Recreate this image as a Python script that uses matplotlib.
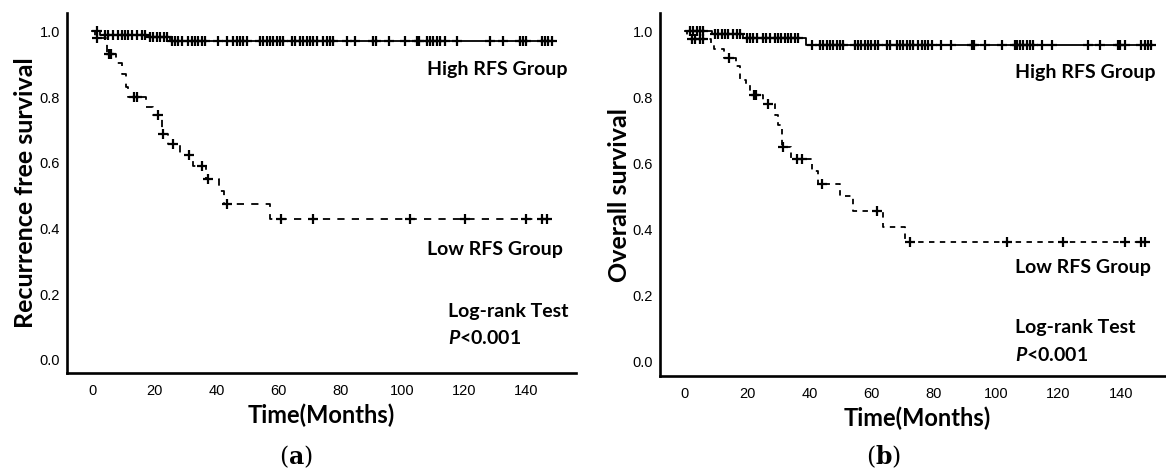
import numpy as np
import matplotlib
matplotlib.use("Agg")
import matplotlib.pyplot as plt

# ---- data (months, survival) ----
# panel (a): recurrence free survival
a_high_event_t = [2.4, 17.0, 25.0]
a_high_event_s = [0.990, 0.982, 0.971]
a_high_censor = [1.4, 4.0, 5.0, 6.6, 8.2, 9.5, 10.5, 11.5, 12.7, 14.4, 16.0, 16.9,
                 18.5, 19.5, 20.8, 21.8, 23.1, 24.0, 25.6, 26.6, 27.6, 28.9, 30.8,
                 32.1, 33.1, 34.0, 35.3, 36.3, 40.5, 43.4, 45.3, 46.6, 47.6, 48.5,
                 49.8, 54.0, 55.0, 56.3, 57.3, 58.2, 59.5, 60.5, 61.5, 64.4, 65.3,
                 66.9, 67.9, 69.2, 70.2, 71.1, 72.4, 74.4, 75.6, 76.6, 77.6, 82.1,
                 84.7, 90.5, 91.5, 95.6, 100.8, 104.7, 105.3, 107.9, 108.9, 109.8,
                 111.1, 112.1, 113.7, 117.6, 128.2, 132.4, 137.9, 138.9, 139.8,
                 145.0, 146.0, 147.0, 148.2]

a_low_event_t = [0.8, 4.6, 7.5, 9.5, 10.8, 11.5, 17.3, 19.5, 22.3, 24.5, 28.2,
                 32.5, 36.5, 40.8, 42.5, 57.3]
a_low_event_s = [0.981, 0.930, 0.905, 0.870, 0.830, 0.800, 0.770, 0.745, 0.688,
                 0.658, 0.625, 0.590, 0.550, 0.515, 0.473, 0.428]
a_low_censor = [1.4, 5.2, 6.0, 13.5, 14.3, 21.1, 22.8, 26.1, 31.2, 35.5, 37.4,
                43.3, 60.8, 71.2, 102.4, 120.2, 140.0, 145.0, 146.5]

# panel (b): overall survival
b_high_event_t = [8.6, 18.7, 39.0]
b_high_event_s = [0.990, 0.978, 0.957]
b_high_censor = [1.6, 2.7, 3.8, 4.8, 5.9, 9.6, 10.7, 11.8, 12.8, 13.9, 15.5, 16.6,
                 17.7, 19.8, 20.9, 22.0, 23.0, 25.2, 26.2, 27.3, 28.9, 30.0, 31.0,
                 32.1, 33.2, 34.2, 35.3, 36.4, 40.7, 43.3, 44.4, 45.5, 46.5, 47.6,
                 48.7, 49.7, 50.8, 54.6, 55.6, 56.7, 57.8, 58.8, 59.9, 61.0, 62.0,
                 64.8, 65.8, 68.0, 69.0, 70.1, 71.2, 72.2, 73.3, 74.9, 76.0, 77.1,
                 78.1, 79.2, 82.4, 85.6, 92.1, 92.8, 96.3, 101.7, 106.0, 106.7,
                 107.6, 108.7, 109.8, 110.8, 111.9, 114.6, 117.8, 129.5, 133.2,
                 139.1, 139.8, 141.2, 146.5, 147.6, 148.6, 149.7]

b_low_event_t = [0.8, 8.5, 9.5, 12.5, 16.4, 17.6, 19.5, 21.0, 25.1, 28.9, 30.0,
                 31.2, 34.0, 40.7, 42.8, 49.8, 54.0, 63.5, 70.6]
b_low_event_s = [0.975, 0.960, 0.947, 0.920, 0.895, 0.853, 0.837, 0.808, 0.778,
                 0.745, 0.715, 0.648, 0.613, 0.575, 0.537, 0.500, 0.455, 0.407, 0.360]
b_low_censor = [2.2, 3.2, 4.8, 5.9, 14.3, 22.2, 22.9, 26.8, 31.6, 35.9, 37.5,
                43.9, 61.6, 72.3, 103.3, 121.3, 141.3, 146.6, 147.7]

y_ticks = [0.0, 0.2, 0.4, 0.6, 0.8, 1.0]
x_ticks = [0, 20, 40, 60, 80, 100, 120, 140]

TEXT_FONT = 'Lato'
TICK_FONT = 'Liberation Sans'

plt.rcParams['mathtext.fontset'] = 'custom'
plt.rcParams['mathtext.rm'] = 'Lato'
plt.rcParams['mathtext.it'] = 'Lato:italic:bold'
plt.rcParams['mathtext.bf'] = 'DejaVu Serif:bold'

W, H = 1166, 468
fig = plt.figure(figsize=(W / 100, H / 100), dpi=100)


def step_xy(event_t, event_s, end_t):
    t = [0.0]
    s = [1.0]
    for et, es in zip(event_t, event_s):
        t += [et, et]
        s += [s[-1], es]
    t.append(end_t)
    s.append(s[-1])
    return np.array(t), np.array(s)


def surv_at(event_t, event_s, times):
    idx = np.searchsorted(event_t, times, side='right')
    vals = np.concatenate([[1.0], event_s])
    return vals[idx]


def draw_group(ax, event_t, event_s, censor, dashed):
    end_t = max(censor[-1], event_t[-1])
    t, s = step_xy(event_t, event_s, end_t)
    if dashed:
        ax.plot(t, s, color='black', lw=1.3, dashes=dashed)
    else:
        ax.plot(t, s, color='black', lw=1.3)
    ax.plot(censor, surv_at(event_t, event_s, censor), ls='none', marker='+',
            ms=7.5, mew=1.6, color='black')


def make_panel(rect, xlim, ylim, ylabel):
    ax = fig.add_axes(rect)
    ax.set_xlim(*xlim)
    ax.set_ylim(*ylim)
    for side in ['top', 'right']:
        ax.spines[side].set_visible(False)
    for side in ['left', 'bottom']:
        ax.spines[side].set_linewidth(1.9)
    ax.set_xticks(x_ticks)
    ax.set_yticks(y_ticks)
    ax.set_yticklabels([f'{v:.1f}' for v in y_ticks])
    ax.tick_params(length=0, labelsize=10.5)
    ax.tick_params(axis='x', pad=8)
    ax.tick_params(axis='y', pad=5)
    for lab in ax.get_xticklabels() + ax.get_yticklabels():
        lab.set_fontfamily(TICK_FONT)
    ax.set_ylabel(ylabel, fontfamily=TEXT_FONT, fontweight='bold', fontsize=18)
    return ax


def px_rect(left, right, top, bottom):
    return [left / W, 1 - bottom / H, (right - left) / W, (bottom - top) / H]


def note(ax, x, y, s):
    ax.text(x, y, s, fontfamily=TEXT_FONT, fontweight='bold', fontsize=14,
            va='center')


# panel (a)
ax_a = make_panel(px_rect(67, 576, 13, 373), (-8.2, 156), (-0.04, 1.056),
                  'Recurrence free survival')
ax_a.yaxis.set_label_coords(-0.058, 0.5)
draw_group(ax_a, a_high_event_t, a_high_event_s, a_high_censor, None)
draw_group(ax_a, a_low_event_t, a_low_event_s, a_low_censor, (4, 4))
note(ax_a, 108, 0.883, 'High RFS Group')
note(ax_a, 108, 0.335, 'Low RFS Group')
note(ax_a, 114.7, 0.146, 'Log-rank Test')
note(ax_a, 114.7, 0.067, r'$P$<0.001')

# panel (b)
ax_b = make_panel(px_rect(660, 1166, 13, 376), (-8.0, 154.5), (-0.045, 1.055),
                  'Overall survival')
ax_b.yaxis.set_label_coords(-0.058, 0.5)
draw_group(ax_b, b_high_event_t, b_high_event_s, b_high_censor, None)
draw_group(ax_b, b_low_event_t, b_low_event_s, b_low_censor, (3, 3))
note(ax_b, 106, 0.876, 'High RFS Group')
note(ax_b, 106, 0.285, 'Low RFS Group')
note(ax_b, 106, 0.103, 'Log-rank Test')
note(ax_b, 106, 0.018, r'$P$<0.001')

# x labels and panel letters
fig.text(321 / W, 1 - 415 / H, 'Time(Months)', fontfamily=TEXT_FONT,
         fontweight='bold', fontsize=17, ha='center', va='center')
fig.text(917 / W, 1 - 418 / H, 'Time(Months)', fontfamily=TEXT_FONT,
         fontweight='bold', fontsize=17, ha='center', va='center')
fig.text(296 / W, 1 - 457 / H, r'($\mathbf{a}$)', fontfamily='DejaVu Serif',
         fontsize=17, ha='center', va='center')
fig.text(884 / W, 1 - 457 / H, r'($\mathbf{b}$)', fontfamily='DejaVu Serif',
         fontsize=17, ha='center', va='center')

fig.savefig('out.png', dpi=100)
